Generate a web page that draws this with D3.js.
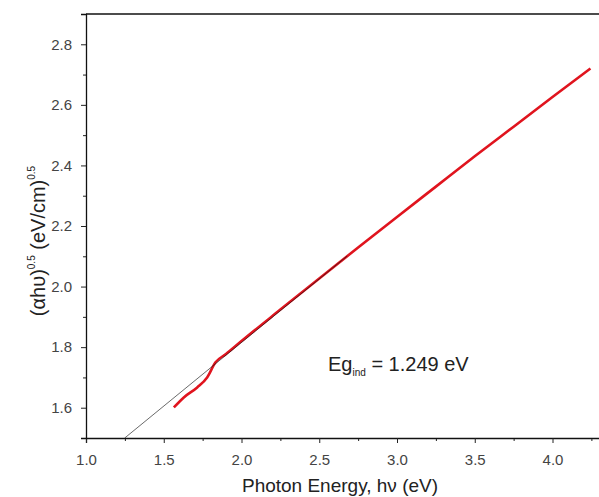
<!DOCTYPE html>
<html>
<head>
<meta charset="utf-8">
<script src="https://cdn.jsdelivr.net/npm/d3@7"></script>
<style>
  body { margin: 0; background: #fff; }
  svg text { font-family: "Liberation Sans", Arial, sans-serif; }
</style>
</head>
<body>
<div id="chart"></div>
<script>
  // measured curve (photon energy, (ahv)^0.5)
  var energy = [1.565, 1.629, 1.715, 1.779, 1.833, 1.90, 2.0, 2.25, 2.5, 2.75, 3.0, 3.25, 3.5, 3.75, 4.0, 4.244];
  var absorb = [1.601, 1.634, 1.667, 1.70, 1.75, 1.777, 1.82, 1.924, 2.027, 2.129, 2.23, 2.33, 2.43, 2.528, 2.626, 2.72];

  // linear fit (Tauc extrapolation)
  var fitX = [1.249, 2.68];
  var fitY = [1.5, 2.101];

  var xTicks = [1.0, 1.5, 2.0, 2.5, 3.0, 3.5, 4.0];
  var yTicks = [1.6, 1.8, 2.0, 2.2, 2.4, 2.6, 2.8];
  var xMinor = [1.25, 1.75, 2.25, 2.75, 3.25, 3.75, 4.25];
  var yMinor = [1.5, 1.7, 1.9, 2.1, 2.3, 2.5, 2.7, 2.9];

  (function(){
    var width = 599, height = 497;
    var padLeft = 86, padTop = 14, axisY = 438;

    var svg = d3.select("#chart").append("svg")
        .attr("width", width)
        .attr("height", height);

    var x = d3.scaleLinear().domain([1.0, 4.3]).range([padLeft, padLeft + 3.3 * 155.5]);
    var y = d3.scaleLinear().domain([1.5, 2.9]).range([axisY, padTop]);

    // minor ticks
    svg.append("g")
        .attr("transform", "translate(0," + axisY + ")")
        .call(d3.axisBottom(x).tickValues(xMinor).tickSize(3).tickFormat(""))
        .call(g => g.select(".domain").remove());
    svg.append("g")
        .attr("transform", "translate(" + padLeft + ",0)")
        .call(d3.axisLeft(y).tickValues(yMinor).tickSize(3).tickFormat(""))
        .call(g => g.select(".domain").remove());

    // major axes
    var xAxis = svg.append("g")
        .attr("transform", "translate(0," + axisY + ")")
        .call(d3.axisBottom(x).tickValues(xTicks).tickSize(5).tickPadding(11).tickFormat(d3.format(".1f")));
    var yAxis = svg.append("g")
        .attr("transform", "translate(" + padLeft + ",0)")
        .call(d3.axisLeft(y).tickValues(yTicks).tickSize(5).tickPadding(9).tickFormat(d3.format(".1f")));

    [xAxis, yAxis].forEach(function(g){
      g.select(".domain").attr("stroke", "#111").attr("stroke-width", 1.3);
      g.selectAll("text").attr("font-size", 15).attr("fill", "#444");
    });
    svg.selectAll(".tick line").attr("stroke", "#222");

    // top frame line
    svg.append("line")
        .attr("x1", padLeft).attr("x2", width)
        .attr("y1", padTop).attr("y2", padTop)
        .attr("stroke", "#111").attr("stroke-width", 1.3);

    var line = d3.line()
        .x(d => x(d[0]))
        .y(d => y(d[1]));

    svg.append("path")
        .datum(d3.zip(energy, absorb))
        .attr("d", line.curve(d3.curveMonotoneX))
        .attr("fill", "none")
        .attr("stroke", "#e0141e")
        .attr("stroke-width", 2.6);

    svg.append("path")
        .datum(d3.zip(fitX, fitY))
        .attr("d", d3.line().x(d => x(d[0])).y(d => y(d[1])))
        .attr("fill", "none")
        .attr("stroke", "#111")
        .attr("stroke-width", 0.9)
        .attr("opacity", 0.7);

    // annotation
    var ann = svg.append("text")
        .attr("x", 328).attr("y", 371)
        .attr("font-size", 20).attr("fill", "#222");
    ann.append("tspan").text("Eg");
    ann.append("tspan").attr("font-size", 10).attr("dy", 5).text("ind");
    ann.append("tspan").attr("dy", -5).text(" = 1.249 eV");

    // axis titles
    svg.append("text")
        .attr("x", 340).attr("y", 492)
        .attr("text-anchor", "middle")
        .attr("font-size", 19).attr("fill", "#222")
        .text("Photon Energy, h\u03bd (eV)");

    var yt = svg.append("text")
        .attr("transform", "translate(45,241) rotate(-90)")
        .attr("text-anchor", "middle")
        .attr("font-size", 20).attr("fill", "#222");
    yt.append("tspan").text("(\u03b1h\u03c5)");
    yt.append("tspan").attr("font-size", 10).attr("dy", -10).text("0.5");
    yt.append("tspan").attr("dy", 10).text(" (eV/cm)");
    yt.append("tspan").attr("font-size", 10).attr("dy", -10).text("0.5");
  })();
</script>
</body>
</html>
